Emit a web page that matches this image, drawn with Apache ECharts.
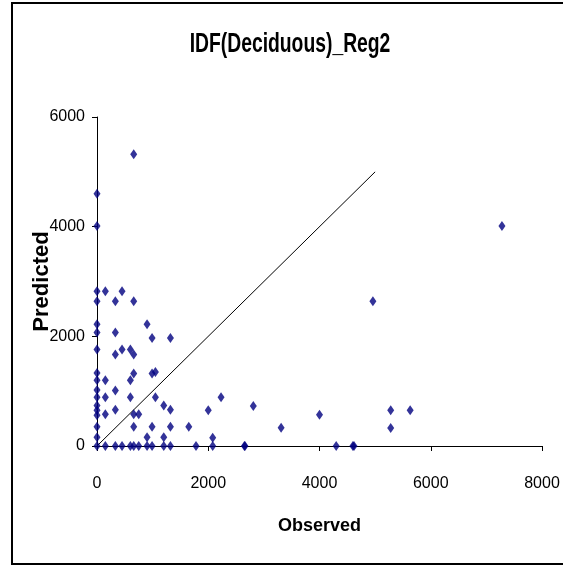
<!DOCTYPE html>
<html>
<head>
<meta charset="utf-8">
<script src="https://cdn.jsdelivr.net/npm/echarts@6/dist/echarts.min.js"></script>
<style>html,body{margin:0;padding:0;background:#fff}#c{width:563px;height:565px}</style>
</head>
<body>
<div id="c"></div>
<script>
const titleText = "IDF(Deciduous)_Reg2";
const xName = "Observed";
const yName = "Predicted";
const xTicks = [0, 2000, 4000, 6000, 8000];
const yTicks = [0, 2000, 4000, 6000];
const observed = [
  0,0,0,0,0,0,0,0,0,0,0,0,0,0,0,0,0,
  150,150,150,150,150,
  330,330,330,330,330,330,
  450,450,450,
  600,600,600,600,
  660,660,660,660,660,660,660,
  750,750,
  900,900,900,
  990,990,990,990,
  1050,1050,
  1200,1200,1200,
  1320,1320,1320,1320,
  1650,1780,2000,2080,2080,2230,2650,2660,2810,3310,4000,4300,4600,4620,4960,5280,5280,5630,7280
];
const predicted = [
  4600,4010,2820,2640,2220,2070,1760,1330,1200,1020,890,740,650,560,350,160,0,
  2820,1200,890,580,0,
  2640,2070,1670,1010,660,0,
  2820,1760,0,
  1760,1200,890,0,
  5320,2640,1670,1320,580,350,0,
  580,0,
  2220,160,0,
  1970,1320,350,0,
  1350,890,
  740,160,0,
  1970,660,350,0,
  350,0,650,150,0,890,0,0,730,335,570,0,0,0,2640,650,330,650,4010
];
const refLineX = [0, 5000];
const refLineY = [0, 5000];

const FONT = "'Liberation Sans', Arial, sans-serif";
const chart = echarts.init(document.getElementById('c'), null, {renderer: 'canvas'});
chart.setOption({
  animation: false,
  backgroundColor: '#fff',
  graphic: [
    {
      type: 'rect', silent: true,
      shape: {x: 12, y: 3, width: 620, height: 561},
      style: {fill: 'none', stroke: '#000', lineWidth: 2}
    },
    {
      type: 'text', silent: true,
      x: 290, y: 44, scaleX: 0.69, scaleY: 1,
      style: {
        text: titleText, fill: '#000',
        font: "bold 28px 'Liberation Sans', Arial, sans-serif",
        textAlign: 'center', textVerticalAlign: 'middle'
      }
    }
  ],
  grid: {left: 97, right: 21, top: 117, bottom: 119, containLabel: false, outerBoundsMode: 'none'},
  xAxis: {
    type: 'value', min: xTicks[0], max: xTicks[xTicks.length - 1], interval: 2000,
    name: xName, nameLocation: 'middle', nameGap: 71, nameMoveOverlap: false,
    nameTextStyle: {fontFamily: FONT, fontWeight: 'bold', fontSize: 18, color: '#000'},
    axisLine: {show: true, onZero: false, lineStyle: {color: '#000', width: 1}},
    axisTick: {show: true, length: 5, inside: false, lineStyle: {color: '#000'}},
    axisLabel: {margin: 30, fontFamily: FONT, fontSize: 16, color: '#000', formatter: v => String(v)},
    splitLine: {show: false}
  },
  yAxis: {
    type: 'value', min: yTicks[0], max: yTicks[yTicks.length - 1], interval: 2000,
    name: yName, nameLocation: 'middle', nameGap: 44, nameRotate: 90, nameMoveOverlap: false,
    nameTextStyle: {fontFamily: FONT, fontWeight: 'bold', fontSize: 22, color: '#000'},
    axisLine: {show: true, onZero: false, lineStyle: {color: '#000', width: 1}},
    axisTick: {show: true, length: 5, inside: false, lineStyle: {color: '#000'}},
    axisLabel: {margin: 12, fontFamily: FONT, fontSize: 16, color: '#000', formatter: v => String(v)},
    splitLine: {show: false}
  },
  series: [
    {
      type: 'line', silent: true, symbol: 'none',
      data: refLineX.map((x, i) => [x, refLineY[i]]),
      lineStyle: {color: '#000', width: 1}, z: 1
    },
    {
      type: 'scatter', symbol: 'diamond', symbolSize: [7, 10],
      data: observed.map((x, i) => [x, predicted[i]]),
      itemStyle: {color: '#000080'}, z: 3
    }
  ]
});
</script>
</body>
</html>
